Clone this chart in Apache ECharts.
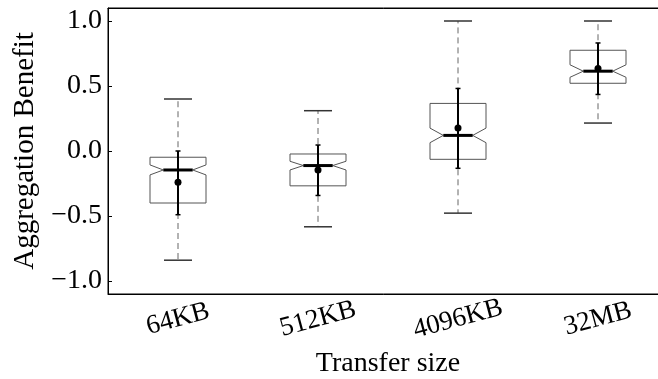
<!DOCTYPE html>
<html>
<head>
<meta charset="utf-8">
<script src="https://cdn.jsdelivr.net/npm/echarts@6/dist/echarts.min.js"></script>
<style>html,body{margin:0;padding:0;background:#fff;}#c{width:658px;height:379px;}</style>
</head>
<body>
<div id="c"></div>
<script>
const categories = ['64KB', '512KB', '4096KB', '32MB'];
const whiskerLow  = [-0.84, -0.583, -0.478, 0.215];
const q1          = [-0.40, -0.268, -0.064, 0.521];
const notchLow    = [-0.184, -0.146, 0.064, 0.567];
const median      = [-0.146, -0.112, 0.12, 0.614];
const notchHigh   = [-0.107, -0.079, 0.176, 0.663];
const q3          = [-0.048, -0.023, 0.366, 0.775];
const whiskerHigh = [0.40, 0.31, 1.0, 1.0];
const mean        = [-0.24, -0.146, 0.176, 0.634];
const ciLow       = [-0.49, -0.342, -0.133, 0.435];
const ciHigh      = [0.0, 0.046, 0.481, 0.831];
const yTicks      = [-1, -0.5, 0, 0.5, 1];

const FONT = 'Liberation Serif';
const data = categories.map((c, i) => [i, whiskerLow[i], q1[i], notchLow[i], median[i], notchHigh[i], q3[i], whiskerHigh[i], mean[i], ciLow[i], ciHigh[i]]);

function renderItem(params, api) {
  const i = api.value(0);
  const x = api.coord([i, 0])[0];
  const band = api.size([1, 0])[0];
  const Y = d => api.coord([i, api.value(d)])[1];
  const hb = band * 0.2, nh = band * 0.105, ch = band * 0.1, ec = 2.5;
  const wl = Y(1), b1 = Y(2), nl = Y(3), md = Y(4), nu = Y(5), b3 = Y(6), wh = Y(7), mn = Y(8), cl = Y(9), cu = Y(10);
  const gray = '#666';
  const line = (x1, y1, x2, y2, style) => ({type: 'line', shape: {x1, y1, x2, y2}, style: Object.assign({stroke: '#000', lineWidth: 1}, style)});
  return {
    type: 'group',
    children: [
      line(x, b3, x, wh, {stroke: gray, lineDash: [6, 4]}),
      line(x, b1, x, wl, {stroke: gray, lineDash: [6, 4]}),
      line(x - ch, wh, x + ch, wh, {stroke: '#333', lineWidth: 1.5}),
      line(x - ch, wl, x + ch, wl, {stroke: '#333', lineWidth: 1.5}),
      {type: 'polygon', shape: {points: [
        [x - hb, b3], [x + hb, b3], [x + hb, nu], [x + nh, md], [x + hb, nl], [x + hb, b1],
        [x - hb, b1], [x - hb, nl], [x - nh, md], [x - hb, nu]
      ]}, style: {fill: 'none', stroke: '#555', lineWidth: 1}},
      line(x - nh, md, x + nh, md, {lineWidth: 3}),
      line(x, cl, x, cu, {lineWidth: 2}),
      line(x - ec, cl, x + ec, cl, {lineWidth: 1.5}),
      line(x - ec, cu, x + ec, cu, {lineWidth: 1.5}),
      {type: 'circle', shape: {cx: x, cy: mn, r: 3.5}, style: {fill: '#000'}}
    ]
  };
}

const chart = echarts.init(document.getElementById('c'), null, {renderer: 'canvas'});
chart.setOption({
  animation: false,
  backgroundColor: '#fff',
  grid: {left: 108, top: 8, width: 560, height: 286, outerBoundsMode: 'none', containLabel: false, show: true, borderColor: '#000', borderWidth: 1, backgroundColor: 'transparent'},
  xAxis: [{
    type: 'category', data: categories, boundaryGap: true,
    axisLine: {onZero: false, lineStyle: {color: '#000', width: 1}},
    axisTick: {inside: true, length: 4, alignWithLabel: true, lineStyle: {color: '#000'}},
    axisLabel: {rotate: 15, align: 'center', verticalAlign: 'middle', margin: 25, fontFamily: FONT, fontSize: 27, color: '#000'},
    name: 'Transfer size', nameLocation: 'middle', nameGap: 50,
    nameTextStyle: {fontFamily: FONT, fontSize: 28, color: '#000'}
  }, {
    type: 'category', data: categories, boundaryGap: true, position: 'top',
    axisLine: {onZero: false, lineStyle: {color: '#000', width: 1}},
    axisTick: {inside: true, length: 4, alignWithLabel: true, lineStyle: {color: '#000'}},
    axisLabel: {show: false}
  }],
  yAxis: {
    type: 'value', min: -1.1, max: 1.1,
    splitLine: {show: false},
    axisLine: {show: true, lineStyle: {color: '#000', width: 1}},
    axisTick: {show: true, inside: true, length: 4, customValues: yTicks, lineStyle: {color: '#000'}},
    axisLabel: {customValues: yTicks, margin: 6, fontFamily: FONT, fontSize: 28, color: '#000',
      formatter: v => (v < 0 ? '\u2212' : '') + Math.abs(v).toFixed(1)},
    name: 'Aggregation Benefit', nameLocation: 'middle', nameGap: 68,
    nameTextStyle: {fontFamily: FONT, fontSize: 29, color: '#000'}
  },
  series: [{
    type: 'custom', xAxisIndex: 0, renderItem: renderItem, data: data,
    encode: {x: 0, y: [1, 7]}
  }]
});
</script>
</body>
</html>
